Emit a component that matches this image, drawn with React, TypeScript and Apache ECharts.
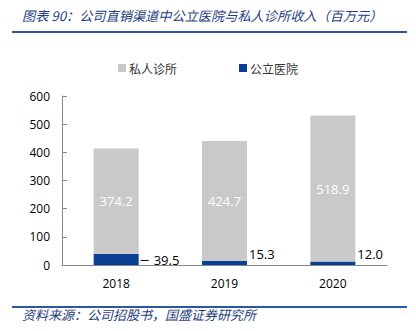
import React, { useEffect, useRef } from "react";
import * as echarts from "echarts";

const categories = ["2018", "2019", "2020"];
const privateClinic = [374.2, 424.7, 518.9];
const publicHospital = [39.5, 15.3, 12.0];
const yTicks = { min: 0, max: 600, interval: 100 };
const titleText = "图表 90：公司直销渠道中公立医院与私人诊所收入（百万元）";
const sourceText = "资料来源：公司招股书，国盛证券研究所";

const BLUE = "#0A3F96";
const GRAY = "#C9C9C9";
const LINE_BLUE = "#2A57A5";
const FONT = "'Noto Sans CJK SC', 'Noto Sans', sans-serif";

export default function App() {
  const ref = useRef<HTMLDivElement>(null);
  useEffect(() => {
    if (!ref.current) return;
    const chart = echarts.init(ref.current, null, { renderer: "svg" });
    chart.setOption({
      animation: false,
      backgroundColor: "#ffffff",
      textStyle: { fontFamily: FONT },
      graphic: [
        {
          type: "text",
          left: 22,
          top: 9,
          style: {
            text: titleText,
            fill: "#1F3E82",
            font: `italic 13.2px ${FONT}`,
          },
        },
        {
          type: "line",
          shape: { x1: 12, y1: 32, x2: 407, y2: 32 },
          style: { stroke: LINE_BLUE, lineWidth: 2 },
        },
        {
          type: "line",
          shape: { x1: 12, y1: 307, x2: 407, y2: 307 },
          style: { stroke: LINE_BLUE, lineWidth: 2 },
        },
        {
          type: "text",
          left: 22,
          top: 308,
          style: {
            text: sourceText,
            fill: "#1F3E82",
            font: `italic 13px ${FONT}`,
          },
        },
      ],
      legend: {
        top: 57,
        left: "center",
        itemWidth: 8,
        itemHeight: 8,
        itemGap: 62,
        icon: "rect",
        textStyle: { fontSize: 12, color: "#333", fontFamily: FONT, padding: [0, 0, 0, -2] },
        data: ["私人诊所", "公立医院"],
      },
      grid: { left: 62, right: 29, top: 96, bottom: 66 },
      xAxis: {
        type: "category",
        data: categories,
        axisLine: { lineStyle: { color: "#888" } },
        axisTick: { inside: true, length: 5, lineStyle: { color: "#888" } },
        axisLabel: { color: "#000", fontSize: 12, margin: 12, fontFamily: "'Open Sans', sans-serif" },
      },
      yAxis: {
        type: "value",
        ...yTicks,
        axisLine: { show: true, lineStyle: { color: "#888" } },
        axisTick: { show: true, inside: true, length: 5, lineStyle: { color: "#888" } },
        splitLine: { show: false },
        axisLabel: { color: "#000", fontSize: 12, margin: 12, fontFamily: "'Open Sans', sans-serif" },
      },
      series: [
        {
          name: "公立医院",
          type: "bar",
          stack: "total",
          barWidth: 45,
          itemStyle: { color: BLUE },
          data: publicHospital.map((v, i) => ({
            value: v,
            label:
              i === 0
                ? {
                    formatter: (p: any) => `{l|}{v|${p.value.toFixed(1)}}`,
                    rich: {
                      l: { width: 8, height: 1, lineHeight: 1, backgroundColor: "#000" },
                      v: { padding: [0, 0, 0, 5], fontSize: 13, color: "#000", fontFamily: "'Open Sans', sans-serif" },
                    },
                  }
                : {},
          })),
          label: {
            show: true,
            position: "right",
            distance: 2,
            color: "#000",
            fontSize: 13,
            fontFamily: "'Open Sans', sans-serif",
            formatter: (p: any) => p.value.toFixed(1),
          },
          labelLayout: (p: any) =>
            p.dataIndex === 0 ? { dx: 0, dy: 1 } : { dx: 0, dy: -9 },
        },
        {
          name: "私人诊所",
          type: "bar",
          stack: "total",
          barWidth: 45,
          itemStyle: { color: GRAY },
          data: privateClinic,
          label: {
            show: true,
            position: "inside",
            color: "#fff",
            fontSize: 13,
            fontFamily: "'Open Sans', sans-serif",
            formatter: (p: any) => p.value.toFixed(1),
          },
        },
      ],
    });
    return () => chart.dispose();
  }, []);
  return (
    <div
      ref={ref}
      style={{ position: "fixed", left: 0, top: 0, width: 416, height: 331 }}
    />
  );
}
